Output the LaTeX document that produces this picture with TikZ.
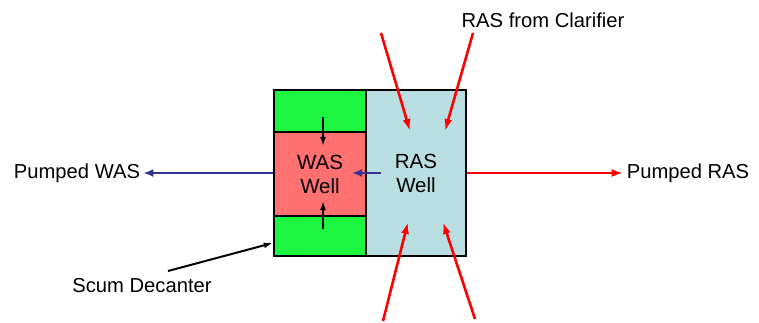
\documentclass[tikz,border=0pt]{standalone}
\usepackage{fontspec}
\setmainfont{Liberation Sans}
\usetikzlibrary{positioning,arrows.meta,arrows}
\definecolor{scumgreen}{RGB}{30,245,64}
\definecolor{wasred}{RGB}{255,112,112}
\definecolor{raswell}{RGB}{186,223,227}
\definecolor{wasblue}{RGB}{51,51,153}
\tikzset{
cell/.style={
  draw=black,
  line width=2.5pt,
  inner sep=0pt,
  align=center,
  font=\fontsize{20.5}{24}\selectfont
  },
lbl/.style={
  inner sep=3pt,
  font=\fontsize{20.2}{23}\selectfont
  },
rasflow/.style={-{Latex[length=12pt,width=8pt]},red,line width=2.6pt},
wasflow/.style={-{Latex[length=10pt,width=8pt]},wasblue,line width=2.2pt},
scumflow/.style={-{Latex[length=9pt,width=6pt]},black,line width=2pt}
}

\begin{document}
\begin{tikzpicture}[x=1pt,y=-1pt]
\useasboundingbox (0,0) rectangle (759,323);

\node[cell,fill=raswell,minimum width=100pt,minimum height=166pt] (ras) at (416,173) {RAS\\Well};
\node[cell,fill=scumgreen,minimum width=92pt,minimum height=42pt] (topscum) at (320,111) {};
\node[cell,fill=wasred,minimum width=92pt,minimum height=84pt] (was) at (320,174) {WAS\\Well};
\node[cell,fill=scumgreen,minimum width=92pt,minimum height=40pt] (botscum) at (320,236) {};

\node[lbl] (pwas) at (77,173) {Pumped WAS};
\node[lbl] (pras) at (688,173) {Pumped RAS};
\node[lbl] (clar) at (543,20) {RAS from Clarifier};
\node[lbl] (scum) at (142,286) {Scum Decanter};

% free ends of the flows
\coordinate (in1) at (381,33);
\coordinate (in2) at (473,33);
\coordinate (in3) at (383,321);
\coordinate (in4) at (475,319);
\coordinate (to1) at (410,131);
\coordinate (to2) at (445,131);
\coordinate (to3) at (408,222);
\coordinate (to4) at (443,222);
\coordinate (rasout) at (381,173);
\coordinate (wasin) at (352,173);
\coordinate (sd) at (168,271);
\coordinate (dn1) at (323,117);
\coordinate (dn2) at (323,146);
\coordinate (up1) at (323,229);
\coordinate (up2) at (323,201);

\draw[rasflow] (in1) -- (to1);
\draw[rasflow] (in2) -- (to2);
\draw[rasflow] (in3) -- (to3);
\draw[rasflow] (in4) -- (to4);
\draw[rasflow] (ras.east|-pras.west) -- (pras.west);

\draw[wasflow] (rasout) -- (wasin);
\draw[wasflow] (was.west|-pwas.east) -- (pwas.east);

\draw[scumflow] (dn1) -- (dn2);
\draw[scumflow] (up1) -- (up2);
\draw[scumflow] (sd) -- (botscum.west|-0,243);
\end{tikzpicture}
\end{document}
